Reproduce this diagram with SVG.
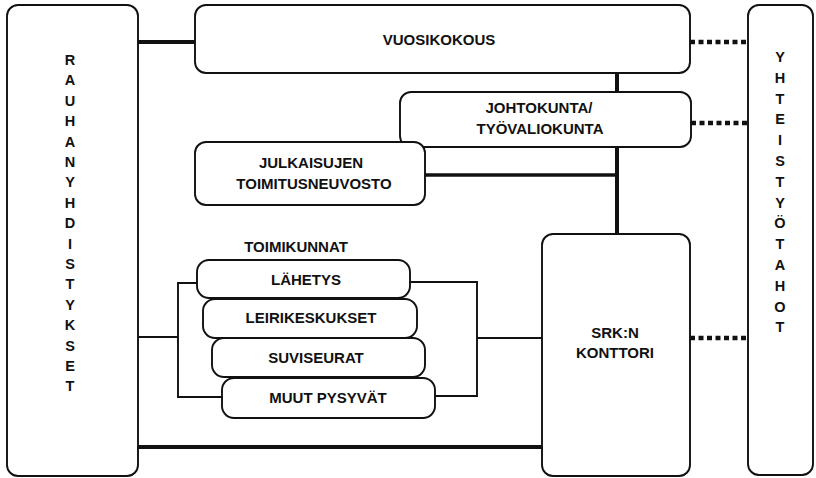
<svg xmlns="http://www.w3.org/2000/svg" width="816" height="478" viewBox="0 0 816 478">
<style>
.box{fill:#fff;stroke:#111;stroke-width:1.9}
.t{font-family:"Liberation Sans",Arial,sans-serif;font-weight:bold;font-size:15px;fill:#111;text-anchor:middle}
.v{font-family:"Liberation Sans",Arial,sans-serif;font-weight:bold;font-size:14.5px;fill:#111;text-anchor:middle}
.thin{fill:none;stroke:#111;stroke-width:1.9}
.thick{fill:none;stroke:#111;stroke-width:4}
.dot{fill:none;stroke:#111;stroke-width:4.5;stroke-dasharray:5 3.5}
</style>
<rect width="816" height="478" fill="#fff"/>
<g id="connectors">
<path class="thick" d="M138 42H197"/>
<path class="thick" d="M617 72V93M617 146V235"/>
<path class="thick" d="M424 175H617" style="stroke-width:3.5"/>
<path class="thick" d="M138 447H543"/>
<path class="thin" d="M138 337H178M198 283H178V397H223"/>
<path class="thin" d="M409 282H477V396H434M477 338H543"/>
<path class="dot" d="M690 42H748M691 123H748M690 338H748"/>
</g>
<g id="rauhanyhdistykset">
<rect class="box" x="7" y="5" width="131" height="471" rx="11"/>
<text class="v">
<tspan x="70" y="65">R</tspan><tspan x="70" y="85.4">A</tspan><tspan x="70" y="105.8">U</tspan><tspan x="70" y="126.2">H</tspan><tspan x="70" y="146.6">A</tspan><tspan x="70" y="167">N</tspan><tspan x="70" y="187.4">Y</tspan><tspan x="70" y="207.8">H</tspan><tspan x="70" y="228.2">D</tspan><tspan x="70" y="248.6">I</tspan><tspan x="70" y="269">S</tspan><tspan x="70" y="289.4">T</tspan><tspan x="70" y="309.8">Y</tspan><tspan x="70" y="330.2">K</tspan><tspan x="70" y="350.6">S</tspan><tspan x="70" y="371">E</tspan><tspan x="70" y="391.4">T</tspan>
</text>
</g>
<g id="yhteistyotahot">
<rect class="box" x="748" y="5" width="65" height="470" rx="11"/>
<text class="v">
<tspan x="780" y="62">Y</tspan><tspan x="780" y="82.8">H</tspan><tspan x="780" y="103.6">T</tspan><tspan x="780" y="124.4">E</tspan><tspan x="780" y="145.2">I</tspan><tspan x="780" y="166">S</tspan><tspan x="780" y="186.8">T</tspan><tspan x="780" y="207.6">Y</tspan><tspan x="780" y="228.4">Ö</tspan><tspan x="780" y="249.2">T</tspan><tspan x="780" y="270">A</tspan><tspan x="780" y="290.8">H</tspan><tspan x="780" y="311.6">O</tspan><tspan x="780" y="332.4">T</tspan>
</text>
</g>
<g id="vuosikokous">
<rect class="box" x="195" y="5" width="495" height="68" rx="11"/>
<text class="t" x="439" y="45">VUOSIKOKOUS</text>
</g>
<g id="johtokunta">
<rect class="box" x="400" y="92" width="291" height="55" rx="11"/>
<text class="t" x="539" y="113">JOHTOKUNTA/</text>
<text class="t" x="540" y="134">TYÖVALIOKUNTA</text>
</g>
<g id="julkaisujen">
<rect class="box" x="195" y="142" width="230" height="63" rx="11"/>
<text class="t" x="311" y="168">JULKAISUJEN</text>
<text class="t" x="314" y="189">TOIMITUSNEUVOSTO</text>
</g>
<g id="toimikunnat">
<text class="t" x="296" y="252">TOIMIKUNNAT</text>
</g>
<g id="lahetys">
<rect class="box" x="197" y="260" width="213" height="38" rx="12"/>
<text class="t" x="306" y="285">LÄHETYS</text>
</g>
<g id="leirikeskukset">
<rect class="box" x="203" y="299" width="214" height="39" rx="12"/>
<text class="t" x="311" y="323">LEIRIKESKUKSET</text>
</g>
<g id="suviseurat">
<rect class="box" x="212" y="338" width="213" height="39" rx="12"/>
<text class="t" x="316" y="363">SUVISEURAT</text>
</g>
<g id="muut">
<rect class="box" x="222" y="378" width="213" height="40" rx="12"/>
<text class="t" x="328" y="403">MUUT PYSYVÄT</text>
</g>
<g id="srk">
<rect class="box" x="542" y="234" width="148" height="242" rx="11"/>
<text class="t" x="615" y="338">SRK:N</text>
<text class="t" x="615" y="358">KONTTORI</text>
</g>
</svg>
